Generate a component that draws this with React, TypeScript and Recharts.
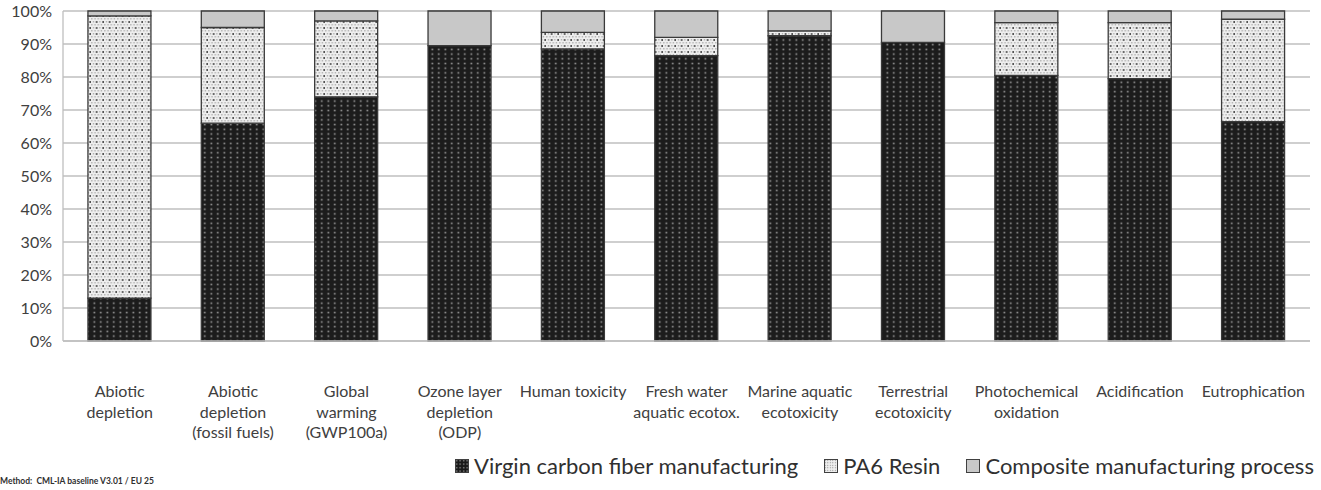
import { Bar, BarChart, CartesianGrid, XAxis, YAxis } from "recharts";

const categories = [
  "Abiotic\ndepletion",
  "Abiotic\ndepletion\n(fossil fuels)",
  "Global\nwarming\n(GWP100a)",
  "Ozone layer\ndepletion\n(ODP)",
  "Human toxicity",
  "Fresh water\naquatic ecotox.",
  "Marine aquatic\necotoxicity",
  "Terrestrial\necotoxicity",
  "Photochemical\noxidation",
  "Acidification",
  "Eutrophication",
];

const virginFiber = [13, 66, 74, 89.5, 88.5, 86.5, 92.5, 90.5, 80.5, 79.5, 66.5];
const pa6Resin = [85.5, 29, 23, 0, 5, 5.5, 1.5, 0, 16, 17, 31];
const compositeProcess = [1.5, 5, 3, 10.5, 6.5, 8, 6, 9.5, 3.5, 3.5, 2.5];

const yTicks = [0, 10, 20, 30, 40, 50, 60, 70, 80, 90, 100];

const seriesInfo = [
  { key: "virgin", name: "Virgin carbon fiber manufacturing", fill: "url(#patVirgin)", swatch: "url(#lgVirgin)" },
  { key: "pa6", name: "PA6 Resin", fill: "url(#patResin)", swatch: "url(#lgResin)" },
  { key: "composite", name: "Composite manufacturing process", fill: "#c8c8c8", swatch: "#c8c8c8" },
];

const data = categories.map((c, i) => ({
  category: c,
  virgin: virginFiber[i],
  pa6: pa6Resin[i],
  composite: compositeProcess[i],
}));

const FONT = "Lato, 'Open Sans', sans-serif";

function CategoryTick(props: any) {
  const { x, y, payload } = props;
  const lines = String(payload.value).split("\n");
  return (
    <g transform={`translate(${x},${y})`}>
      {lines.map((line: string, i: number) => (
        <text
          key={i}
          x={0}
          y={i * 20.5 + 48}
          textAnchor="middle"
          fontSize={16}
          fill="#404040"
          fontFamily={FONT}
        >
          {line}
        </text>
      ))}
    </g>
  );
}

function LegendSwatch({ fill }: { fill: string }) {
  return (
    <svg width={14} height={14} style={{ marginRight: 5 }}>
      <defs>
        <pattern id="lgVirgin" width="3.5" height="3.5" patternUnits="userSpaceOnUse">
          <rect width="3.5" height="3.5" fill="#1a1a1a" />
          <rect x="1" y="1" width="1.3" height="1.3" fill="#9a9a9a" />
        </pattern>
        <pattern id="lgResin" width="2.5" height="2.5" patternUnits="userSpaceOnUse">
          <rect width="2.5" height="2.5" fill="#f0f0f0" />
          <rect x="0.8" y="0.8" width="1" height="1" fill="#808080" />
        </pattern>
      </defs>
      <rect x={0.5} y={0.5} width={13} height={13} fill={fill} stroke="#404040" />
    </svg>
  );
}

export default function App() {
  return (
    <div style={{ position: "absolute", left: 0, top: 0, width: 1321, height: 490, background: "#fff" }}>
      <BarChart
        width={1321}
        height={490}
        data={data}
        barCategoryGap="22%"
        margin={{ top: 11, right: 11, left: 0, bottom: 49 }}
      >
        <defs>
          <pattern id="patVirgin" width="6.5" height="4.7" patternUnits="userSpaceOnUse">
            <rect width="6.5" height="4.7" fill="#1c1c1c" />
            <rect x="2.5" y="1.6" width="1.6" height="1.6" fill="#a0a0a0" />
          </pattern>
          <pattern id="patResin" width="6.5" height="6" patternUnits="userSpaceOnUse">
            <rect width="6.5" height="6" fill="#eeeeee" />
            <rect x="0.2" y="0.2" width="1.2" height="1.2" fill="#9a9a9a" />
            <rect x="3.4" y="0.2" width="1.2" height="1.2" fill="#9a9a9a" />
            <rect x="1.8" y="3.2" width="1.2" height="1.2" fill="#9a9a9a" />
            <rect x="4.9" y="3.2" width="1.6" height="1.6" fill="#2a2a2a" />
          </pattern>
        </defs>
        <CartesianGrid vertical={false} stroke="#bfbfbf" strokeWidth={1.3} />
        <XAxis
          dataKey="category"
          interval={0}
          height={100}
          tickLine={false}
          axisLine={{ stroke: "#bfbfbf", strokeWidth: 1.3 }}
          tick={<CategoryTick />}
        />
        <YAxis
          width={63}
          domain={[0, 100]}
          ticks={yTicks}
          tickFormatter={(v) => `${v}%`}
          tickLine={false}
          axisLine={{ stroke: "#bfbfbf", strokeWidth: 1.3 }}
          tick={{ fontSize: 16, fill: "#404040", fontFamily: FONT }}
          tickMargin={5}
        />
        {seriesInfo.map((s) => (
          <Bar
            key={s.key}
            dataKey={s.key}
            name={s.name}
            stackId="a"
            fill={s.fill}
            stroke="#3a3a3a"
            strokeWidth={1.3}
            isAnimationActive={false}
          />
        ))}
      </BarChart>
      <div
        style={{
          position: "absolute",
          left: 0,
          top: 476,
          fontFamily: FONT,
          fontSize: 8.5,
          fontWeight: 700,
          color: "#303030",
          whiteSpace: "nowrap",
        }}
      >
        Method:&nbsp; CML-IA baseline V3.01 / EU 25
      </div>
      <div
        style={{
          position: "absolute",
          left: 455,
          top: 452,
          display: "flex",
          alignItems: "center",
          fontFamily: FONT,
          fontSize: 22,
          color: "#303030",
          whiteSpace: "nowrap",
        }}
      >
        {seriesInfo.map((s, i) => (
          <span
            key={s.key}
            style={{ display: "flex", alignItems: "center", marginRight: i < 2 ? 26 : 0 }}
          >
            <LegendSwatch fill={s.swatch} />
            {s.name}
          </span>
        ))}
      </div>
    </div>
  );
}
